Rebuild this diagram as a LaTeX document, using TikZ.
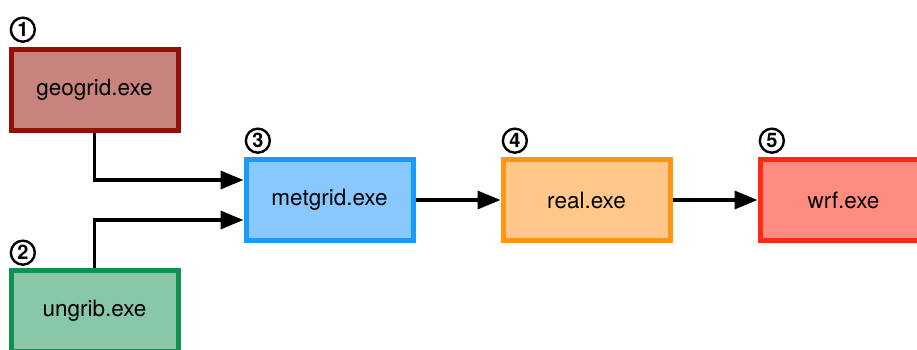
\documentclass[tikz,border=0pt]{standalone}
\usepackage{fontspec}
\setmainfont{TeX Gyre Heros}
\usepackage{xcolor}
\usetikzlibrary{positioning,arrows.meta}
\definecolor{geoline}{HTML}{921008}
\definecolor{geofill}{HTML}{C8837F}
\definecolor{ungline}{HTML}{12904F}
\definecolor{ungfill}{HTML}{88C8A8}
\definecolor{metline}{HTML}{1A99FF}
\definecolor{metfill}{HTML}{88C8FF}
\definecolor{realline}{HTML}{FF9415}
\definecolor{realfill}{HTML}{FFC78A}
\definecolor{wrfline}{HTML}{FF2A15}
\definecolor{wrffill}{HTML}{FF8C80}
\tikzset{
  prog/.style  = {rectangle, draw=#1line, fill=#1fill, line width=5pt,
                  minimum width=167pt, minimum height=81pt, inner sep=0pt,
                  font=\fontsize{22.5}{25}\selectfont},
  badge/.style = {circle, draw=black, fill=white, line width=2.4pt, inner sep=0pt,
                  minimum size=24pt, font=\fontsize{20}{21}\selectfont\bfseries},
  flow/.style  = {-{Triangle[length=23pt,width=18pt]}, line width=3.4pt, draw=black},
}
\begin{document}
\begin{tikzpicture}[x=1pt, y=-1pt]
  \useasboundingbox (0,0) rectangle (917,349);
  \clip (0,0) rectangle (917,349);
  % programs
  \node[prog=geo] (geo) at (94.5,90) {geogrid.exe};
  \node[prog=ung] (ung) at (94.5,311) {ungrib.exe};
  \node[prog=met] (met) at (329.5,200) {metgrid.exe};
  \node[prog=real, right=85pt of met] (real) {real.exe};
  \node[prog=wrf, right=85pt of real] (wrf) {wrf.exe};
  % step numbers
  \node[badge, above right=8pt and 5pt of geo.north west] (n1) {1};
  \node[badge, above right=6pt and 5pt of ung.north west] (n2) {2};
  \node[badge, above right=7pt and 5pt of met.north west] (n3) {3};
  \node[badge, above right=7pt and 5pt of real.north west] (n4) {4};
  \node[badge, above right=7pt and 5pt of wrf.north west] (n5) {5};
  % data flow
  \draw[flow] (geo.south) |- ([yshift=20pt]met.west);
  \draw[flow] (ung.north) |- ([yshift=-20pt]met.west);
  \draw[flow] (met) -- (real);
  \draw[flow] (real) -- (wrf);
\end{tikzpicture}
\end{document}
